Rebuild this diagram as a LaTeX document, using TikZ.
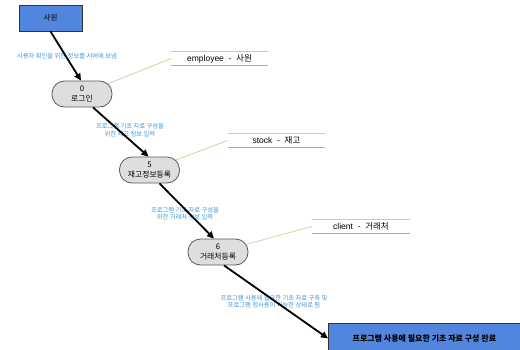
\documentclass[tikz,border=0pt]{standalone}
\usepackage{fontspec}
\setmainfont{Liberation Sans}
\newfontfamily\kr{Noto Sans CJK KR}
\usetikzlibrary{arrows.meta,backgrounds}
\definecolor{boxblue}{RGB}{82,134,222}
\definecolor{stadfill}{RGB}{222,222,222}
\definecolor{lblblue}{RGB}{60,150,220}
\definecolor{conncol}{RGB}{215,208,165}
\definecolor{anntop}{RGB}{200,200,200}
\definecolor{annbot}{RGB}{175,178,150}
\tikzset{
  bluebox/.style={draw=black!80, line width=0.8pt, fill=boxblue, inner sep=0pt, font=\kr\fontsize{7.5}{8}\selectfont},
  stad/.style={draw=black!65, line width=0.8pt, fill=stadfill, rounded corners=12.5pt, minimum width=60pt, minimum height=26pt, inner sep=0pt, align=center, font=\kr\fontsize{7.8}{9.5}\selectfont},
  flow/.style={line width=1.8pt, -{Triangle[length=7pt,width=6.5pt]}},
  lbl/.style={text=lblblue, align=center, inner sep=0pt, font=\kr\fontsize{6.3}{7.5}\selectfont},
  ann/.style={inner sep=0pt, minimum height=13pt, font=\fontsize{8.5}{10}\selectfont},
  conn/.style={draw=conncol, line width=0.8pt}
}
\begin{document}
\begin{tikzpicture}[x=1pt,y=-1pt]
\useasboundingbox (0,0) rectangle (520,349);
\clip (0,0) rectangle (520,349);
% boxes
\node[bluebox, minimum width=63pt, minimum height=26pt] (emp) at (50.5,18) {사원};
\node[stad] (s0) at (82,94) {0\\로그인};
\node[stad] (s5) at (149.5,170) {5\\재고정보등록};
\node[stad] (s6) at (218,252) {6\\거래처등록};
\node[bluebox, minimum width=192pt, minimum height=30pt, anchor=north west, font=\kr\bfseries\fontsize{8}{9}\selectfont] (done) at (328,323) {프로그램 사용에 필요한 기초 자료 구성 완료};
% annotations
\node[ann, minimum width=96pt] (a1) at (219.5,58.5) {employee\ \ -\ \ {\kr 사원}};
\node[ann, minimum width=97pt] (a2) at (276.5,140.5) {stock\ \ -\ \ {\kr 재고}};
\node[ann, minimum width=98pt] (a3) at (361,226.5) {client\ \ -\ \ {\kr 거래처}};
\foreach \a in {a1,a2,a3}{
  \draw[anntop, line width=0.7pt] (\a.north west) -- (\a.north east);
  \draw[annbot, line width=0.7pt] (\a.south west) -- (\a.south east);
}
\begin{scope}[on background layer]
  \draw[conn] (s0.center) -- (a1.west);
  \draw[conn] (s5.center) -- (a2.west);
  \draw[conn] (s6.center) -- (a3.west);
\end{scope}
% labels
\node[lbl] (l1) at (67,56) {사용자 확인을 위한 정보를 서버에 보냄};
\node[lbl] (l2) at (130,130) {프로그램 기초 자료 구성을\\위한 재고 정보 입력};
\node[lbl] (l3) at (185,213.5) {프로그램 기초 자료 구성을\\위한 거래처 정보 입력};
\node[lbl] (l4) at (274,301.5) {프로그램 사용에 필요한 기초 자료 구축 및\\프로그램 정사용이 가능한 상태로 됨};
% flows
\draw[flow] (emp.south) -- ([xshift=-1pt]s0.north);
\draw[flow] ([xshift=11pt]s0.south) -- ([xshift=-1pt]s5.north);
\draw[flow] ([xshift=10pt]s5.south) -- ([xshift=-4pt]s6.north);
\draw[flow] ([xshift=6pt]s6.south) -- (done.west);
\end{tikzpicture}
\end{document}
